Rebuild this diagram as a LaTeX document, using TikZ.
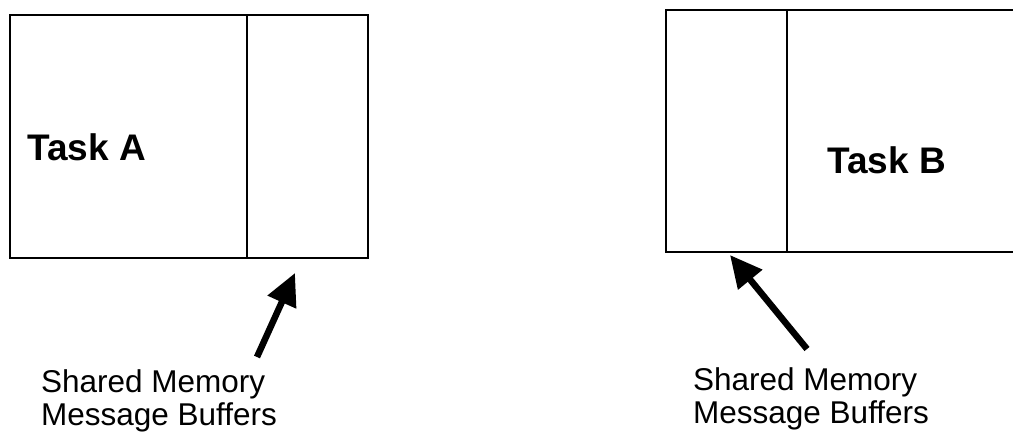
\documentclass[tikz,border=0pt]{standalone}
\usepackage{fontspec}
\setmainfont{Liberation Sans}
\usetikzlibrary{arrows.meta}

\begin{document}
\begin{tikzpicture}[x=1pt, y=-1pt,
  frame/.style={line width=2pt},
  divider/.style={line width=1.6pt},
  pointer/.style={line width=6.5pt, -{Triangle[length=32pt,width=30pt]}},
  tasklabel/.style={anchor=base west, inner sep=0pt, font=\fontsize{37}{44}\selectfont\bfseries},
  memlabel/.style={anchor=base west, inner sep=0pt, align=left, font=\fontsize{31.5}{33}\selectfont}]

\useasboundingbox (0,0) rectangle (1013,434);

% Task A box, buffers on its right side
\coordinate (A1) at (10,15);
\coordinate (A2) at (368,258);
\draw[frame] (A1) rectangle (A2);
\draw[divider] (247,15) -- (247,258);

% Task B box, buffers on its left side (runs off the right edge)
\draw[frame] (1016,10) -- (666,10) -- (666,252) -- (1016,252);
\draw[divider] (787,10) -- (787,252);

% Labels for tasks
\node[tasklabel] (taskA) at (27,160) {Task A};
\node[tasklabel] (taskB) at (827,173) {Task B};

% Labels for buffers (base = last line)
\node[memlabel] (memA) at (41,425) {Shared Memory\\Message Buffers};
\node[memlabel] (memB) at (693,423) {Shared Memory\\Message Buffers};

% Arrows pointing at the buffers
\coordinate (tailA) at (257,357);
\coordinate (tipA) at (295,273);
\coordinate (tailB) at (807,349);
\coordinate (tipB) at (730,255);
\draw[pointer] (tailA) -- (tipA);
\draw[pointer] (tailB) -- (tipB);

\end{tikzpicture}
\end{document}
